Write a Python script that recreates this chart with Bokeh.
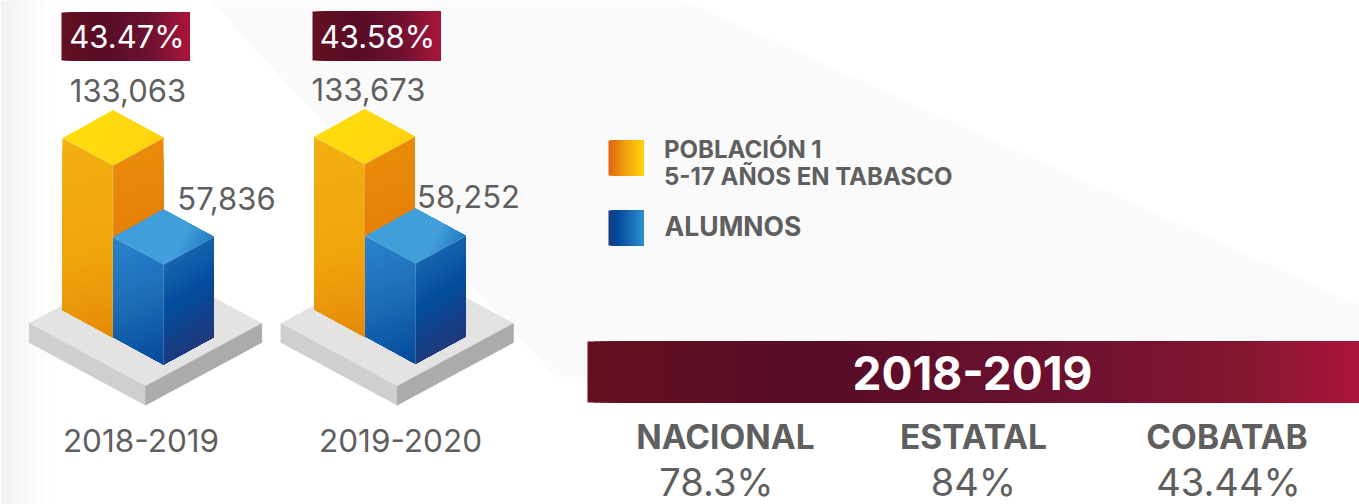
from bokeh.plotting import figure
from bokeh.models import Range1d
from bokeh.core.properties import value
from bokeh.embed import file_html
from bokeh.resources import INLINE

# ---- data ----
years = ["2018-2019", "2019-2020"]
poblacion = [133063, 133673]
alumnos = [57836, 58252]
cobertura = ["43.47%", "43.58%"]
legend_labels = ["POBLACIÓN 1", "5-17 AÑOS EN TABASCO", "ALUMNOS"]
panel_title = "2018-2019"
panel_names = ["NACIONAL", "ESTATAL", "COBATAB"]
panel_values = ["78.3%", "84%", "43.44%"]

# ---- layout and style ----
W, H = 1359, 504
FONT = "Inter"
GREY = "#5f5f5f"
p = figure(width=W, height=H, x_range=Range1d(0, W), y_range=Range1d(H, 0),
           x_axis_location=None, y_axis_location=None, toolbar_location=None,
           output_backend="svg", min_border=0, outline_line_color=None,
           background_fill_color="#ffffff")
p.grid.visible = False


def hex2rgb(c):
    return [int(c[i:i + 2], 16) for i in (1, 3, 5)]


def rgb2hex(c):
    return "#%02x%02x%02x" % tuple(int(round(v)) for v in c)


def ramp(stops, t):
    for k in range(len(stops) - 1):
        if stops[k][0] <= t <= stops[k + 1][0]:
            s = (t - stops[k][0]) / (stops[k + 1][0] - stops[k][0])
            a, b = hex2rgb(stops[k][1]), hex2rgb(stops[k + 1][1])
            return rgb2hex([a[i] + (b[i] - a[i]) * s for i in range(3)])
    return stops[-1][1]


def clip(poly, a, b, c):
    """keep the part of poly where a*x + b*y >= c"""
    out = []
    for i in range(len(poly)):
        P, Q = poly[i], poly[(i + 1) % len(poly)]
        dp, dq = a * P[0] + b * P[1] - c, a * Q[0] + b * Q[1] - c
        if dp >= 0:
            out.append(P)
        if (dp >= 0) != (dq >= 0):
            s = dp / (dp - dq)
            out.append((P[0] + (Q[0] - P[0]) * s, P[1] + (Q[1] - P[1]) * s))
    return out


def gradient(poly, start, end, stops, n=28):
    """linear gradient: nested pieces painted one over the other, so no seams show"""
    dx, dy = end[0] - start[0], end[1] - start[1]
    L = dx * dx + dy * dy
    a, b = dx / L, dy / L
    c0 = a * start[0] + b * start[1]
    xs, ys, col = [], [], []
    for i in range(n):
        q = poly if i == 0 else clip(poly, a, b, c0 + i / n)
        if len(q) < 3:
            continue
        xs.append([k[0] for k in q])
        ys.append([k[1] for k in q])
        col.append(ramp(stops, (i + .5) / n))
    p.patches(xs, ys, fill_color=col, line_color=None)


def hband(x0, x1, y0, y1, stops, n=60):
    gradient([(x0, y0), (x1, y0), (x1, y1), (x0, y1)], (x0, y0), (x1, y0), stops, n)


def label(x, y, txt, size, color=GREY, bold=False, align="center"):
    p.text([x], [y], text=[txt], text_font=value(FONT), text_font_size=f"{size}px",
           text_color=color, text_font_style="bold" if bold else "normal",
           text_align=align, text_baseline="middle")


# background shapes
hband(0, 52, 0, H, [(0, "#f2f2f2"), (1, "#ffffff")], n=13)
p.patch([210, 683, W, W, 555], [0, 0, 305, 376, 376], fill_color="#fafafa", line_color=None)

# bars: the drawn height is a linear function of the value, as in the picture
H_BASE, H_PER_UNIT = 44.6, 0.000957
HALF, RISE = 50.5, 27.5


def bar(fx, fy, val, st):
    h = H_BASE + H_PER_UNIT * val
    ft = fy - h
    top = [(fx, ft), (fx + HALF, ft - RISE), (fx, ft - 2 * RISE), (fx - HALF, ft - RISE)]
    left = [(fx - HALF, ft - RISE), (fx, ft), (fx, fy), (fx - HALF, fy - RISE)]
    right = [(fx, ft), (fx + HALF, ft - RISE), (fx + HALF, fy - RISE), (fx, fy)]
    gradient(top, (fx - HALF * .4, ft - 2 * RISE), (fx + HALF, ft - RISE + 8), st["top"])
    gradient(left, (fx - HALF, ft - RISE), (fx, fy), st["left"])
    gradient(right, (fx, ft), (fx + HALF, fy - RISE), st["right"])
    p.multi_line([[fx, fx], [fx - HALF, fx, fx + HALF]], [[ft, fy], [ft - RISE, ft, ft - RISE]],
                 line_color="#ffffff", line_alpha=0.28, line_width=0.8)


ORANGE = dict(top=[(0, "#ffdb0e"), (.7, "#ffd70f"), (1, "#ffcb10")],
              left=[(0, "#f2b011"), (.6, "#f0a40b"), (1, "#e58a08")],
              right=[(0, "#e98a0a"), (1, "#e27508")])
BLUE = dict(top=[(0, "#3f9fdb"), (.6, "#429fdb"), (1, "#1f78ba")],
            left=[(0, "#2a84cc"), (.5, "#1c6db6"), (1, "#03489a")],
            right=[(0, "#1766b0"), (.45, "#034c9c"), (1, "#20387a")])

fronts = [(145.0, 385.7, 112.5, 337.0, 163.0, 364.0), (396.7, 385.7, 364.0, 336.3, 415.0, 363.3)]
for k, (pfx, pfy, ox, oy, bx, by) in enumerate(fronts):
    pw, pr, pt_ = 116.3, 62.7, 19
    p.patch([pfx - pw, pfx, pfx + pw, pfx], [pfy - pr, pfy, pfy - pr, pfy - 2 * pr],
            fill_color="#e3e3e3", line_color="#e3e3e3", line_width=0.5)
    p.patch([pfx - pw, pfx, pfx, pfx - pw], [pfy - pr, pfy, pfy + pt_, pfy - pr + pt_],
            fill_color="#cfcfcf", line_color="#cfcfcf", line_width=0.5)
    p.patch([pfx + pw, pfx, pfx, pfx + pw], [pfy - pr, pfy, pfy + pt_, pfy - pr + pt_],
            fill_color="#ababab", line_color="#ababab", line_width=0.5)
    bar(ox, oy, poblacion[k], ORANGE)
    bar(bx, by, alumnos[k], BLUE)

# badges over the bars
WINE = [(0, "#651020"), (.35, "#570c27"), (.7, "#6f1230"), (1, "#ab153c")]
hband(61, 189, 12, 60, WINE, n=40)
hband(312, 440, 11, 60, WINE, n=40)
label(126.5, 36, cobertura[0], 31, "#ffffff")
label(377, 35.5, cobertura[1], 31, "#ffffff")
label(127.5, 90, f"{poblacion[0]:,}", 31)
label(368, 89, f"{poblacion[1]:,}", 31)
label(226, 198, f"{alumnos[0]:,}", 31)
label(468, 196, f"{alumnos[1]:,}", 31)
label(140.5, 440, years[0], 31.5)
label(400, 440, years[1], 31.5)

# legend
hband(608, 643, 140, 175, [(0, "#e0620f"), (.5, "#f3a30f"), (1, "#ffd30e")], n=24)
hband(608, 643, 210, 245, [(0, "#1d3a7c"), (.25, "#04499b"), (1, "#2e90d0")], n=24)
label(663.5, 149, legend_labels[0], 24, bold=True, align="left")
label(663.5, 176, legend_labels[1], 24, bold=True, align="left")
label(664, 225, legend_labels[2], 26.5, bold=True, align="left")

# panel
hband(587, W, 341, 402, [(0, "#651020"), (.3, "#570c27"), (.65, "#6f1230"), (.85, "#851630"), (1, "#ab153c")], n=120)
label(972, 372, panel_title, 46, "#ffffff", bold=True)
for x, name in zip([725, 973, 1226.5], panel_names):
    label(x, 436, name, 33.5, bold=True)
for x, val in zip([716, 973, 1228], panel_values):
    label(x, 481, val, 38)

open("out.html", "w").write(file_html(p, INLINE))
